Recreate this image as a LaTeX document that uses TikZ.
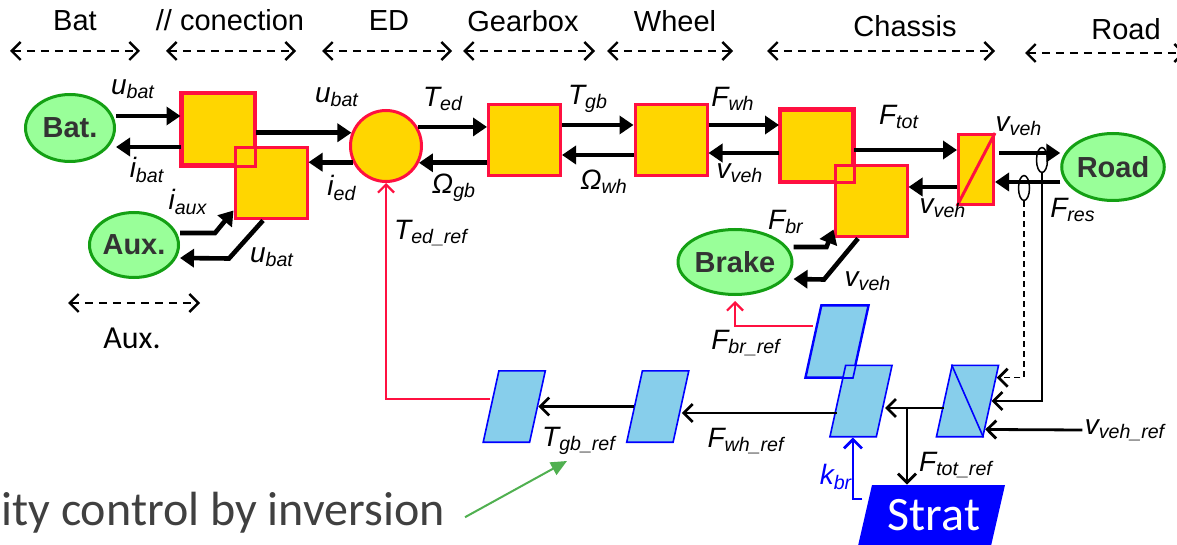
\documentclass[tikz,border=0pt]{standalone}
\usepackage{fontspec}
\setmainfont{Liberation Sans}
\newfontfamily\calibri{Carlito}
\usetikzlibrary{arrows.meta,shapes.geometric,calc}
\definecolor{emrgold}{RGB}{255,214,0}
\definecolor{emrred}{RGB}{255,16,64}
\definecolor{srcfill}{RGB}{153,255,153}
\definecolor{srcline}{RGB}{20,160,20}
\definecolor{invfill}{RGB}{135,206,235}
\definecolor{invline}{RGB}{0,0,255}
\definecolor{txtgray}{RGB}{51,51,51}
\definecolor{notegray}{RGB}{64,64,64}
\definecolor{hintgreen}{RGB}{80,176,80}
\newcommand{\sym}[2]{#1\textsubscript{#2}}
\tikzset{
  srcbox/.style={ellipse,draw=srcline,fill=srcfill,line width=1.5pt,inner sep=0pt,minimum width=44.5pt,minimum height=33.5pt,text=txtgray,font=\fontsize{14.5}{16}\selectfont\bfseries},
  emrbox/.style={rectangle,draw=emrred,fill=emrgold,line width=1.5pt,inner sep=0pt,minimum width=36pt,minimum height=35.5pt},
  invbox/.style={rectangle,draw=invline,fill=invfill,line width=0.8pt,inner sep=0pt,minimum width=23.2pt,minimum height=35.7pt,xslant=0.22},
  stratbox/.style={rectangle,fill=invline,inner sep=0pt,minimum width=66.5pt,minimum height=40pt,xslant=0.23},
  sensorbox/.style={ellipse,draw,line width=0.75pt,inner sep=0pt,minimum width=5.5pt,minimum height=12.5pt},
  lbl/.style={font=\fontsize{14}{16}\selectfont\itshape,inner sep=1pt},
  hdr/.style={font=\fontsize{14.5}{17}\selectfont,anchor=base,inner sep=0pt},
  pwr/.style={line width=2.3pt,-{Triangle[length=7pt,width=9pt]}},
  ctlarrow/.style={line width=1.4pt,-{Straight Barb[length=4.5pt,width=9pt]}},
  refarrow/.style={line width=1.1pt,-{Straight Barb[length=4pt,width=8pt]}},
  spanarrow/.style={line width=1.2pt,dash pattern=on 4pt off 3pt,{Straight Barb[length=4.5pt,width=9pt]}-{Straight Barb[length=4.5pt,width=9pt]}},
  sensline/.style={line width=0.75pt,-{Straight Barb[length=4.5pt,width=9pt,line width=1.4pt]}}
}
\begin{document}
\begin{tikzpicture}[x=0.5pt,y=-0.5pt]
  \useasboundingbox (0,0) rectangle (1177,545);
  \node[hdr] (hbat) at (75,31) {Bat};
  \node[hdr] (hpar) at (230,31) {// conection};
  \node[hdr] (hed) at (389,31) {ED};
  \node[hdr] (hgb) at (523,32) {Gearbox};
  \node[hdr] (hwh) at (675,32) {Wheel};
  \node[hdr] (hch) at (905,37) {Chassis};
  \node[hdr] (hroad) at (1126,40) {Road};
  \draw[spanarrow] (10,51) -- (140,51);
  \draw[spanarrow] (166,51) -- (296,51);
  \draw[spanarrow] (322,51) -- (452,51);
  \draw[spanarrow] (463,51) -- (595,51);
  \draw[spanarrow] (607,51) -- (733,51);
  \draw[spanarrow] (767,51) -- (995,51);
  \draw[spanarrow] (1025,53) -- (1185,53);
  \draw[spanarrow] (68,303) -- (200,303);
  \node[hdr,font=\calibri\fontsize{16}{18}\selectfont] (haux) at (132,348) {Aux.};

  \node[srcbox] (bat) at (70,128) {Bat.};
  \node[srcbox,minimum height=32.5pt] (aux) at (134,245) {Aux.};
  \node[srcbox,minimum width=45.5pt,minimum height=32.5pt] (brake) at (735,262) {Brake};
  \node[srcbox] (road) at (1113,167) {Road};
  \node[emrbox] (pc1) at (218,129.5) {};
  \node[emrbox] (pc2) at (271,183.5) {};
  \draw[emrred,line width=1.5pt] (pc1.south west) rectangle (pc1.north east);
  \node[emrbox,circle,minimum size=35.5pt] (ed) at (386,146) {};
  \node[emrbox] (gb) at (524.5,140.5) {};
  \node[emrbox] (wh) at (671,140.5) {};
  \node[emrbox] (ch1) at (816.5,146) {};
  \node[emrbox] (ch2) at (871,201.5) {};
  \draw[emrred,line width=1.5pt] (ch1.south west) rectangle (ch1.north east);
  \node[emrbox,minimum width=17.5pt,minimum height=35pt] (conv) at (976,169.5) {};
  \draw[emrred,line width=1.5pt] (conv.south west) -- (conv.north east);

  \draw[pwr] (bat.east |- 0,116) -- (pc1.west |- 0,116);
  \draw[pwr] (pc1.west |- 0,147) -- (bat.east |- 0,147);
  \draw[pwr] (pc1.east |- ed.159) -- (ed.159);
  \draw[pwr] (ed.206) -- (pc2.east |- ed.206);
  \draw[pwr] (aux.east |- 0,233) -- ++(35,0) -- ([yshift=5pt]pc2.south west);
  \draw[pwr] ([xshift=-4pt]pc2.south) -- ++(-34,38) -- (aux.east |- 0,258);
  \draw[pwr] (ed.31) -- (gb.west |- ed.31);
  \draw[pwr] (gb.west |- ed.-27) -- (ed.-27);
  \draw[pwr] (gb.east |- 0,125) -- (wh.west |- 0,125);
  \draw[pwr] (wh.west |- 0,155) -- (gb.east |- 0,155);
  \draw[pwr] (wh.east |- 0,125) -- (ch1.west |- 0,125);
  \draw[pwr] (ch1.west |- 0,153) -- (wh.east |- 0,153);
  \draw[pwr] (ch1.east |- 0,150) -- (conv.west |- 0,150);
  \draw[pwr] (conv.west |- 0,187) -- (ch2.east |- 0,187);
  \draw[pwr] (brake.east |- 0,247) -- ++(33,0) -- ([yshift=4.5pt]ch2.south west);
  \draw[pwr] ([xshift=-6.5pt]ch2.south) -- ++(-34,41) -- (brake.east |- 0,279);
  \draw[pwr] ([xshift=2pt]conv.east |- 0,153) -- (road.west |- 0,153);
  \draw[pwr] (road.west |- 0,182) -- (conv.east |- 0,182);
  \node[sensorbox] (s1) at (1042,160) {};
  \node[sensorbox] (s2) at (1024,188) {};

  \node[lbl] (lubat1) at (133,89) {\sym{u}{bat}};
  \node[lbl] (libat) at (147,170) {\sym{i}{bat}};
  \node[lbl] (lubat2) at (337,97) {\sym{u}{bat}};
  \node[lbl] (lied) at (342,188) {\sym{i}{ed}};
  \node[lbl] (liaux) at (188,202) {\sym{i}{aux}};
  \node[lbl] (lubat3) at (272,257) {\sym{u}{bat}};
  \node[lbl] (lTed) at (443,99) {\sym{T}{ed}};
  \node[lbl] (lOgb) at (454,188) {\sym{Ω}{gb}};
  \node[lbl] (lTedref) at (431,233) {\sym{T}{ed\_ref}};
  \node[lbl] (lTgb) at (588,99) {\sym{T}{gb}};
  \node[lbl] (lOwh) at (604,182) {\sym{Ω}{wh}};
  \node[lbl] (lFwh) at (733,99) {\sym{F}{wh}};
  \node[lbl] (lvveh1) at (740,173) {\sym{v}{veh}};
  \node[lbl] (lFtot) at (899,117) {\sym{F}{tot}};
  \node[lbl] (lvveh2) at (943,208) {\sym{v}{veh}};
  \node[lbl] (lFbr) at (786,222) {\sym{F}{br}};
  \node[lbl] (lvveh3) at (868,281) {\sym{v}{veh}};
  \node[lbl] (lvveh4) at (1019,126) {\sym{v}{veh}};
  \node[lbl] (lFres) at (1073,210) {\sym{F}{res}};

  \node[invbox] (brinv) at (837,341.5) {};
  \node[invbox] (chinv) at (861,401) {};
  \draw[invline,line width=0.8pt] (brinv.north west) -- (brinv.north east) -- (brinv.south east) -- (brinv.south west) -- cycle;
  \node[invbox] (gbinv) at (514.25,406.5) {};
  \node[invbox] (whinv) at (657.75,406.5) {};
  \node[invbox] (scv) at (967.5,401) {};
  \draw[invline,line width=0.8pt] (scv.north west) -- (scv.south east);
  \node[stratbox] (strat) at (929.3,525) {};
  \node[font=\calibri\fontsize{24}{26}\selectfont,text=white,anchor=base,inner sep=0pt] (strattxt) at (934,530) {Strat};

  \draw[refarrow,emrred] (gbinv.west |- 0,399) -| (ed.south);
  \draw[refarrow,emrred,shorten >=2.5pt] (brinv.west |- 0,326) -| (brake.south);
  \draw[ctlarrow] (whinv.west) -- (gbinv.east);
  \draw[ctlarrow] (chinv.west |- 0,413) -- (whinv.east |- 0,413);
  \draw[ctlarrow] (scv.west |- 0,408) -- (chinv.east |- 0,408);
  \coordinate (ftotref) at (907,408);
  \draw[ctlarrow] (ftotref) -- (ftotref |- strat.north);
  \draw[ctlarrow,invline] (strat.west |- 0,499) -| (chinv.south);
  \draw[sensline] (s1.south) |- (scv.east);
  \draw[sensline,dash pattern=on 3pt off 2pt] (s2.south) |- ($(scv.north east)!0.18!(scv.south east)$);
  \node[lbl] (vref) at (1125,430) {\sym{v}{veh\_ref}};
  \draw[ctlarrow] (vref.west) -- ($(scv.north east)!0.89!(scv.south east)$);

  \node[lbl] (lFbrref) at (746,343) {\sym{F}{br\_ref}};
  \node[lbl] (lTgbref) at (579,441) {\sym{T}{gb\_ref}};
  \node[lbl] (lFwhref) at (746,441) {\sym{F}{wh\_ref}};
  \node[lbl,text=invline] (lkbr) at (836,477) {\sym{k}{br}};
  \node[lbl] (lFtotref) at (956,465) {\sym{F}{tot\_ref}};

  \node[font=\calibri\fontsize{24}{26}\selectfont,text=notegray,anchor=base east,inner sep=0pt] (note) at (445,525) {ity control by inversion};
  \coordinate (hinttip) at (567,461);
  \draw[hintgreen,line width=1pt,-{Triangle[length=8pt,width=7pt]}] ([xshift=10pt,yshift=-2.5pt]note.east) -- (hinttip);
\end{tikzpicture}
\end{document}
